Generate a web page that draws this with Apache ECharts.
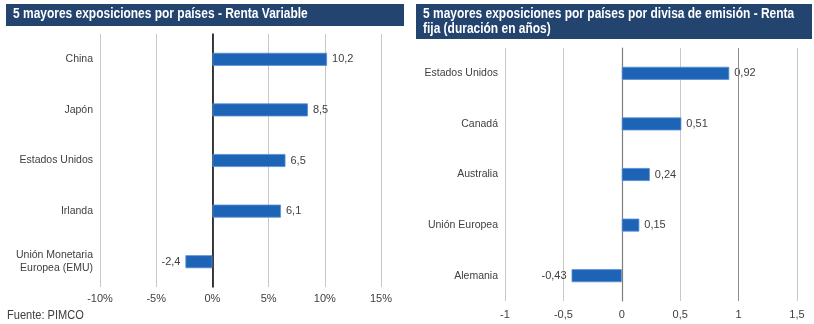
<!DOCTYPE html>
<html>
<head>
<meta charset="utf-8">
<script src="https://cdn.jsdelivr.net/npm/echarts@6/dist/echarts.min.js"></script>
<style>
html,body{margin:0;padding:0;background:#fff;}
#c{width:814px;height:324px;}
</style>
</head>
<body>
<div id="c"></div>
<script>
// Left panel: Renta Variable (%)
var leftCategories = ['China', 'Japón', 'Estados Unidos', 'Irlanda', 'Unión Monetaria\nEuropea (EMU)'];
var leftValues = [10.2, 8.5, 6.5, 6.1, -2.4];
var leftTicks = [-10, -5, 0, 5, 10, 15];

// Right panel: Renta fija (duración en años)
var rightCategories = ['Estados Unidos', 'Canadá', 'Australia', 'Unión Europea', 'Alemania'];
var rightValues = [0.92, 0.51, 0.24, 0.15, -0.43];
var rightTicks = [-1, -0.5, 0, 0.5, 1, 1.5];

var leftTitle = '5 mayores exposiciones por países - Renta Variable';
var rightTitle = '5 mayores exposiciones por países por divisa de emisión - Renta\nfija (duración en años)';
var sourceText = 'Fuente: PIMCO';

var FONT = '"Liberation Sans", Arial, sans-serif';
var TXT = '#404040';
var BAR = '#1d63b6';
var NAVY = '#22446e';

function comma(v) { return String(v).replace('.', ','); }

var chart = echarts.init(document.getElementById('c'), null, {renderer: 'canvas'});

function barSeries(idx, values) {
  return {
    type: 'bar',
    xAxisIndex: idx,
    yAxisIndex: idx,
    barWidth: 13,
    data: values.map(function (v) {
      return {
        value: v,
        label: {position: v < 0 ? 'left' : 'right'}
      };
    }),
    itemStyle: {color: BAR, borderColor: '#5b8fd6', borderWidth: 0.8},
    label: {
      show: true,
      distance: 5,
      color: TXT,
      fontFamily: FONT,
      fontSize: 11,
      formatter: function (p) { return comma(p.value); }
    },
    animation: false
  };
}

var option = {
  animation: false,
  grid: [
    {left: 100, right: 433, top: 34, bottom: 37},
    {left: 505, right: 17, top: 48, bottom: 23}
  ],
  xAxis: [
    {
      type: 'value', gridIndex: 0,
      min: leftTicks[0], max: leftTicks[leftTicks.length - 1], interval: 5,
      axisLine: {show: false}, axisTick: {show: false},
      splitLine: {show: true, lineStyle: {color: '#c8c8c8', width: 1}},
      axisLabel: {
        color: TXT, fontFamily: FONT, fontSize: 11, margin: 6,
        formatter: function (v) { return v + '%'; }
      }
    },
    {
      type: 'value', gridIndex: 1,
      min: rightTicks[0], max: rightTicks[rightTicks.length - 1], interval: 0.5,
      axisLine: {show: false}, axisTick: {show: false},
      splitLine: {show: true, lineStyle: {color: '#c8c8c8', width: 1}},
      axisLabel: {
        color: TXT, fontFamily: FONT, fontSize: 11, margin: 8,
        formatter: function (v) { return comma(v); }
      }
    }
  ],
  yAxis: [
    {
      type: 'category', gridIndex: 0, inverse: true, data: leftCategories,
      axisLine: {show: true, onZero: true, lineStyle: {color: '#000', width: 1.5}},
      axisTick: {show: false},
      axisLabel: {color: TXT, fontFamily: FONT, fontSize: 10.5, margin: 7, lineHeight: 13, align: 'right'}
    },
    {
      type: 'category', gridIndex: 1, inverse: true, data: rightCategories,
      axisLine: {show: true, onZero: true, lineStyle: {color: '#7f7f7f', width: 1.2}},
      axisTick: {show: false},
      axisLabel: {color: TXT, fontFamily: FONT, fontSize: 10.5, margin: 7, align: 'right'}
    }
  ],
  series: [
    barSeries(0, leftValues),
    (function () {
      var s = barSeries(1, rightValues);
      s.markLine = {
        silent: true, symbol: 'none', label: {show: false},
        lineStyle: {color: '#8c8c8c', type: 'solid', width: 1},
        data: [{xAxis: 1}]
      };
      return s;
    })()
  ],
  graphic: [
    {type: 'rect', left: 6, top: 4, shape: {width: 398, height: 22}, style: {fill: NAVY}, z: 10},
    {type: 'text', x: 13, y: 7, scaleX: 0.855, style: {text: leftTitle, fill: '#fff', font: 'bold 14px ' + FONT}, z: 11},
    {type: 'rect', left: 416, top: 4, shape: {width: 396, height: 35}, style: {fill: NAVY}, z: 10},
    {type: 'text', x: 423, y: 7, scaleX: 0.855, style: {text: rightTitle, fill: '#fff', font: 'bold 14px ' + FONT, lineHeight: 15}, z: 11},
    {type: 'text', x: 7, y: 309, scaleX: 0.85, style: {text: sourceText, fill: TXT, font: '13px ' + FONT}, z: 11}
  ]
};
chart.setOption(option);
</script>
</body>
</html>
